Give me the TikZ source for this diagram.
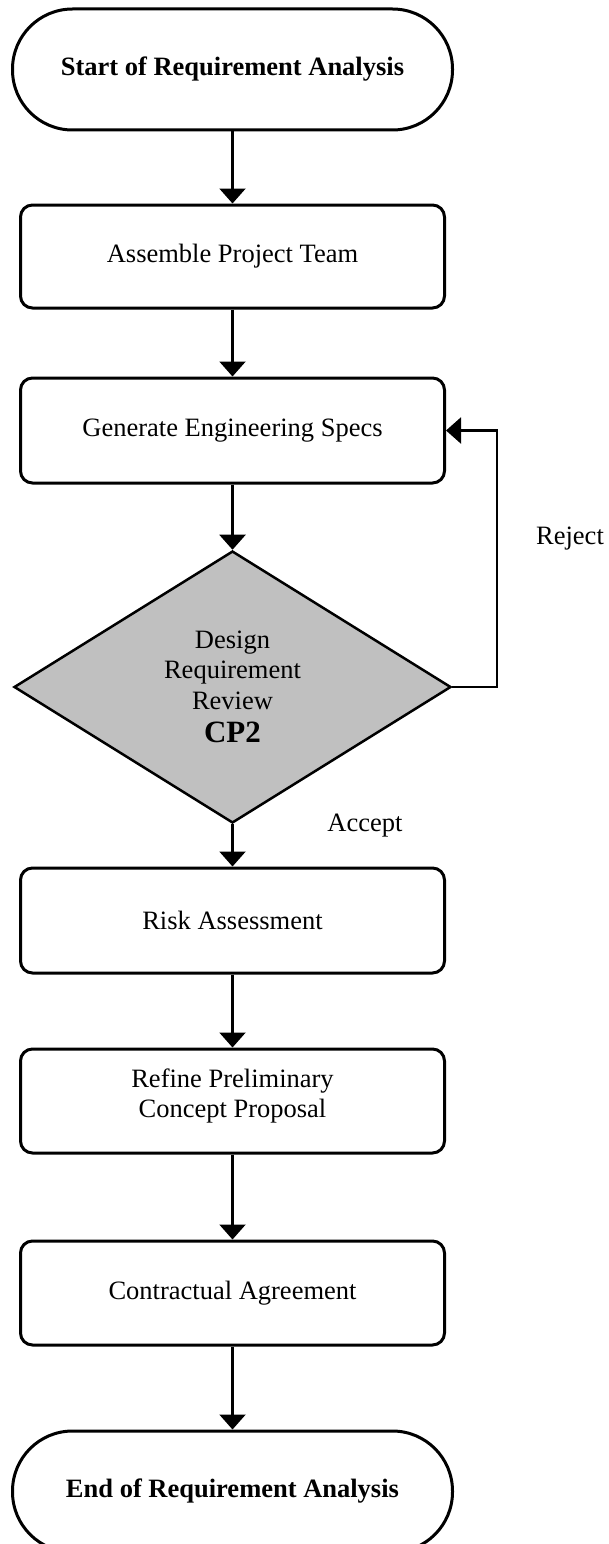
\documentclass[tikz,border=0pt]{standalone}
\usepackage{fontspec}
\setmainfont{Liberation Serif}
\usetikzlibrary{arrows.meta,shapes.geometric}

\definecolor{decgray}{RGB}{192,192,192}
\tikzset{
  basefont/.style={font=\fontsize{26.5}{30.5}\selectfont},
  terminal/.style={draw, line width=3pt, rectangle, rounded corners=60pt,
    minimum width=440pt, minimum height=121pt, align=center, inner sep=0pt,
    font=\fontsize{26.5}{30.5}\selectfont\bfseries},
  procbox/.style={basefont, draw, line width=3pt, rectangle, rounded corners=12pt,
    minimum width=424pt, align=center, inner sep=0pt},
  decision/.style={basefont, draw, line width=2.5pt, diamond, fill=decgray,
    minimum width=437pt, minimum height=272pt, align=center, inner sep=0pt},
  flow/.style={line width=2.2pt, -{Triangle[width=26pt,length=15pt]}},
  plaintext/.style={basefont, inner sep=0pt, align=center}
}

\begin{document}
\begin{tikzpicture}[x=1pt, y=-1pt]
  \useasboundingbox (0,0) rectangle (609,1544);
  \clip (0,0) rectangle (609,1544);

  % main column of steps
  \node[terminal] (start) at (232.5,69.5) {Start of Requirement Analysis};
  \node[procbox, minimum height=103pt] (team) at (232.5,256.5) {Assemble Project Team};
  \node[procbox, minimum height=105pt] (specs) at (232.5,430.5) {Generate Engineering Specs};
  \node[decision] (review) at (232.5,687)
    {Design\\Requirement\\Review\\[3pt]{\fontsize{31}{34}\selectfont\bfseries CP2}};
  \node[procbox, minimum height=105pt] (risk) at (232.5,920.5) {Risk Assessment};
  \node[procbox, minimum height=104pt] (refine) at (232.5,1101) {};
  \node[plaintext] (refinetext) at (232.5,1096)
    {Refine Preliminary\\Concept Proposal};
  \node[procbox, minimum height=104pt] (contract) at (232.5,1293) {Contractual Agreement};
  \node[terminal] (finish) at (232.5,1491.5) {End of Requirement Analysis};

  % branch labels
  \node[plaintext] (rejectlbl) at (570,539) {Reject};
  \node[plaintext] (acceptlbl) at (365,826) {Accept};

  % connectors
  \draw[flow] (start) -- (team);
  \draw[flow] (team) -- (specs);
  \draw[flow] (specs) -- (review);
  \draw[flow] (review.south) -- (risk.north);
  \draw[flow] (risk) -- (refine);
  \draw[flow] (refine) -- (contract);
  \draw[flow] (contract) -- (finish);
  \coordinate (loopcorner) at (497,687);
  \draw[flow] (review.east) -- (loopcorner) |- (specs.east);
\end{tikzpicture}
\end{document}
